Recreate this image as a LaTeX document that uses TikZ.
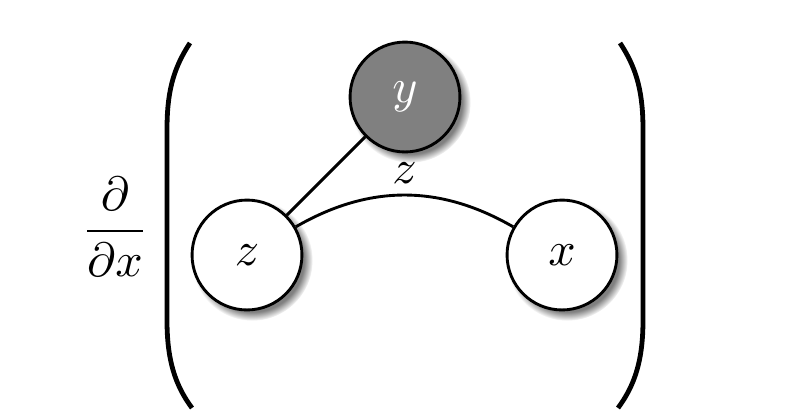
\documentclass[tikz,border=0pt]{standalone}
\usepackage{amsmath}
\usetikzlibrary{shadows}

\begin{document}
\begin{tikzpicture}[x=0.007323cm, y=-0.007323cm,
					semithick,
					latent/.style={circle, draw, fill=white, minimum size=22.9pt, inner sep=0pt,
						circular drop shadow={shadow xshift=1pt, shadow yshift=-1pt}},
					observed/.style={latent, fill=gray, text=white}]

	\useasboundingbox (0,0) rectangle (800,411);

	\node (deriv) at (115,227) {$\dfrac{\partial}{\partial x}$};
	\node[observed] (y) at (405,97) {$y$};
	\node[latent] (z) at (247,255) {$z$};
	\node[latent] (x) at (562,255) {$x$};
	\draw	(z) -- (y)
			(z) edge [bend left=30] node[above, inner sep=2pt]{$z$} (x)
;

\draw[line width=1pt] (190,43) .. controls (172,70) and (167,95) .. (167,130) -- (167,320) .. controls (167,360) and (175,385) .. (192,408);
\draw[line width=1pt] (620,43) .. controls (638,70) and (643,95) .. (643,130) -- (643,320) .. controls (643,360) and (635,385) .. (618,408);
\end{tikzpicture}
\end{document}
